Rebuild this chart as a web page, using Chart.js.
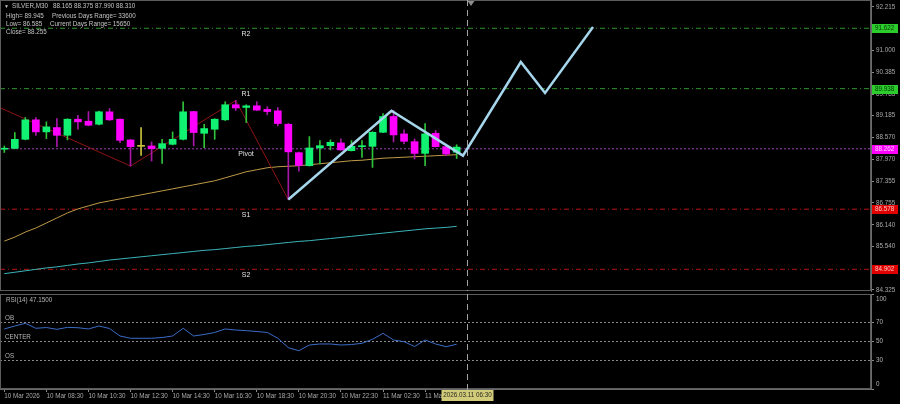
<!DOCTYPE html>
<html>
<head>
<meta charset="utf-8">
<script src="https://cdn.jsdelivr.net/npm/chart.js@4.4.1/dist/chart.umd.min.js"></script>
<style>
  html, body { margin: 0; padding: 0; background: #000; }
  #wrap { position: relative; width: 900px; height: 404px; overflow: hidden; background: #000; }
  #priceChart { position: absolute; left: 0; top: 0; }
  #rsiChart { position: absolute; left: 0; top: 294px; }
</style>
</head>
<body>
<div id="wrap">
  <canvas id="priceChart" width="900" height="294"></canvas>
  <canvas id="rsiChart" width="900" height="110"></canvas>
</div>
<script>
// SILVER M30 candles
const candleOpen = [88.25, 88.274, 88.526, 89.069, 88.733, 88.854, 88.638, 89.086, 89.03, 88.946,
  89.293, 89.086, 88.509, 88.33, 88.341, 88.274, 88.386, 88.526, 89.30, 88.694,
  88.806, 89.069, 89.49, 89.414, 89.46, 89.36, 89.32, 88.946, 88.153, 87.79,
  88.285, 88.349, 88.425, 88.209, 88.321, 88.330, 88.722, 89.162, 88.677, 88.461,
  88.134, 88.694, 88.321, 88.165];
const candleHigh = [88.34, 88.714, 89.134, 89.134, 89.013, 89.106, 89.10, 89.198, 89.30, 89.31,
  89.386, 89.10, 88.52, 88.85, 88.453, 88.526, 88.733, 89.574, 89.31, 88.946,
  89.10, 89.574, 89.61, 89.49, 89.574, 89.44, 89.414, 88.97, 88.17, 88.602,
  88.49, 88.509, 88.537, 88.49, 88.49, 88.74, 89.246, 89.33, 88.789, 88.537,
  88.965, 88.77, 88.33, 88.375];
const candleLow = [88.16, 88.26, 88.51, 88.638, 88.546, 88.321, 88.509, 88.806, 88.90, 88.93,
  89.05, 88.434, 87.781, 88.08, 87.921, 87.854, 88.37, 88.51, 88.341, 88.293,
  88.526, 89.05, 89.33, 88.994, 89.33, 89.21, 88.90, 86.845, 87.641, 87.78,
  87.837, 88.229, 88.22, 88.20, 88.022, 87.742, 88.71, 88.453, 88.397, 87.977,
  87.79, 88.31, 88.07, 87.990];
const candleClose = [88.27, 88.526, 89.069, 88.733, 88.873, 88.638, 89.086, 89.013, 88.918, 89.293,
  89.069, 88.498, 88.321, 88.335, 88.265, 88.405, 88.526, 89.293, 88.714, 88.826,
  89.086, 89.49, 89.40, 89.46, 89.34, 89.30, 88.966, 88.176, 87.798, 88.285,
  88.349, 88.442, 88.229, 88.330, 88.349, 88.722, 89.162, 88.649, 88.47, 88.134,
  88.677, 88.321, 88.117, 88.310];

const maFast = [85.688, 85.80, 85.94, 86.053, 86.193, 86.333, 86.473, 86.585, 86.669, 86.753,
  86.809, 86.865, 86.921, 86.977, 87.033, 87.089, 87.145, 87.201, 87.257, 87.313,
  87.369, 87.453, 87.537, 87.621, 87.677, 87.733, 87.761, 87.775, 87.789, 87.817,
  87.845, 87.873, 87.901, 87.929, 87.943, 87.971, 87.999, 88.013, 88.027, 88.041,
  88.055, 88.069, 88.083, 88.097];
const maSlow = [84.78, 84.82, 84.86, 84.90, 84.94, 84.97, 85.01, 85.05, 85.08, 85.12,
  85.16, 85.19, 85.22, 85.25, 85.28, 85.31, 85.34, 85.37, 85.40, 85.43,
  85.45, 85.48, 85.51, 85.54, 85.56, 85.59, 85.62, 85.65, 85.68, 85.70,
  85.73, 85.76, 85.79, 85.82, 85.85, 85.88, 85.91, 85.94, 85.97, 86.00,
  86.03, 86.05, 86.07, 86.10];
const rsiValues = [63.2, 66.3, 69.2, 63.9, 64.7, 62.8, 64.9, 64.5, 63.2, 66.3,
  63.7, 55.8, 53.4, 53.4, 53.4, 54.2, 55.8, 63.9, 55.8, 57.4,
  59.5, 63.2, 62.1, 61.4, 60.5, 59.5, 53.4, 43.5, 40.3, 46.3,
  47.4, 47.4, 46.3, 46.8, 48.1, 52.3, 58.6, 51.6, 49.8, 44.7,
  51.6, 47.4, 44.5, 47.15];

const zigzagBars = [-0.41, 12, 22, 27, 37];
const zigzagPrices = [89.408, 87.781, 89.61, 86.845, 89.33];
const projBars = [27, 36.8, 43.6, 49.1, 51.4, 55.96];
const projPrices = [86.848, 89.324, 88.07, 90.68, 89.817, 91.657];

const levelNames = ['R2', 'R1', 'Pivot', 'S1', 'S2'];
const levelValues = [91.622, 89.938, 88.262, 86.578, 84.902];
const priceTicks = [92.215, 91.600, 91.000, 90.385, 89.785, 89.185, 88.570, 87.970, 87.355, 86.755, 86.140, 85.540, 84.925, 84.325];
const rsiLevels = [70, 50, 30];
const rsiLevelNames = ['OB', 'CENTER', 'OS'];
const rsiTicks = [100, 70, 50, 30, 0];
const timeLabels = ['10 Mar 2026', '10 Mar 08:30', '10 Mar 10:30', '10 Mar 12:30', '10 Mar 14:30', '10 Mar 16:30',
  '10 Mar 18:30', '10 Mar 20:30', '10 Mar 22:30', '11 Mar 02:30', '11 Mar 04:30'];
const timeTickBars = [0, 4, 8, 12, 16, 20, 24, 28, 32, 36, 40];
const cursorBar = 44;
const cursorLabel = '2026.03.11 06:30';

// view / style
const xMin = -0.409, xMax = 82.386;
const levelLine = ['#2f962f', '#2f962f', '#a03cb4', '#b81414', '#b81414'];
const levelDash = [[5, 3, 1, 3], [5, 3, 1, 3], [2, 2], [5, 3, 1, 3], [5, 3, 1, 3]];
const levelBox = ['#2ccc2c', '#2ccc2c', '#ff00ff', '#e00000', '#e00000'];
const levelBoxText = ['#063806', '#063806', '#ffd6ff', '#ffc4c4', '#ffc4c4'];
const FONT = '"Liberation Sans", Arial, sans-serif';

Chart.defaults.font.family = FONT;
Chart.defaults.font.size = 6.3;
Chart.defaults.color = '#a8a8a8';

const bars = candleOpen.map((o, i) => i);
function candleColor(i, bull, bear, doji) {
  let d = candleClose[i] - candleOpen[i];
  if (Math.abs(d) < 0.01) return doji;
  return d > 0 ? bull : bear;
}

function fixAxis(w, h) {
  return function(scale) {
    if (w) scale.width = w;
    if (h) scale.height = h;
    scale.paddingTop = 0;
    scale.paddingBottom = 0;
    scale.paddingLeft = 0;
    scale.paddingRight = 0;
  };
}

const levelSets = levelValues.map((v, k) => ({
  type: 'line',
  data: [{x: xMin, y: v}, {x: xMax, y: v}],
  borderColor: levelLine[k],
  borderWidth: 1,
  borderDash: levelDash[k],
  pointRadius: 0,
  order: 10
}));

const mainDecor = {
  id: 'mainDecor',
  afterDraw(chart) {
    const {ctx, chartArea: a} = chart;
    const x = chart.scales.x, y = chart.scales.y;
    ctx.save();
    ctx.strokeStyle = '#5c5c5c';
    ctx.lineWidth = 1;
    ctx.strokeRect(a.left + 0.5, a.top + 0.5, a.right - a.left - 1, a.bottom - a.top - 1);

    let cx = Math.round(x.getPixelForValue(cursorBar)) + 0.5;
    ctx.strokeStyle = '#a4a4a4';
    ctx.setLineDash([6, 4]);
    ctx.beginPath(); ctx.moveTo(cx, a.top); ctx.lineTo(cx, a.bottom); ctx.stroke();
    ctx.setLineDash([]);
    ctx.fillStyle = '#8c8c8c';
    ctx.beginPath(); ctx.moveTo(cx, 1); ctx.lineTo(cx + 7, 1); ctx.lineTo(cx + 3.5, 6); ctx.fill();

    ctx.fillStyle = '#c4c4c4';
    ctx.textBaseline = 'middle';
    ctx.textAlign = 'left';
    ctx.font = '5px ' + FONT;
    ctx.fillText('▼', 4, 6.5);
    ctx.font = '6.3px ' + FONT;
    ctx.fillText('SILVER,M30', 12, 6.5);
    ctx.fillText('88.165 88.375 87.990 88.310', 53, 6.5);
    ctx.fillText('High= 89.945', 6, 16);
    ctx.fillText('Previous Days Range= 33600', 52, 16);
    ctx.fillText('Low= 86.585', 6, 24);
    ctx.fillText('Current Days Range= 15650', 50, 24);
    ctx.fillText('Close= 88.255', 6, 32);

    ctx.font = '7px ' + FONT;
    ctx.fillStyle = '#e2e2e2';
    ctx.textAlign = 'center';
    ctx.textBaseline = 'top';
    levelValues.forEach((v, k) => {
      ctx.fillText(levelNames[k], 246, y.getPixelForValue(v) + 2);
    });

    ctx.font = '6.3px ' + FONT;
    ctx.textAlign = 'left';
    ctx.textBaseline = 'middle';
    levelValues.forEach((v, k) => {
      let py = Math.round(y.getPixelForValue(v));
      ctx.fillStyle = levelBox[k];
      ctx.fillRect(a.right + 1, py - 4, 26, 9);
      ctx.fillStyle = levelBoxText[k];
      ctx.fillText(v.toFixed(3), a.right + 4, py + 0.5);
    });
    ctx.restore();
  }
};

new Chart(document.getElementById('priceChart'), {
  type: 'bar',
  data: {
    datasets: [
      ...levelSets,
      {
        type: 'line',
        data: bars.map(i => ({x: i, y: maSlow[i]})),
        borderColor: '#3cb4b8', borderWidth: 1, pointRadius: 0, order: 9
      },
      {
        type: 'line',
        data: bars.map(i => ({x: i, y: maFast[i]})),
        borderColor: '#c09a48', borderWidth: 1, pointRadius: 0, order: 8
      },
      {
        type: 'line',
        data: zigzagBars.map((b, k) => ({x: b, y: zigzagPrices[k]})),
        borderColor: '#8e1414', borderWidth: 1, pointRadius: 0, order: 7
      },
      {
        data: bars.map(i => ({x: i, y: [candleLow[i], candleHigh[i]]})),
        backgroundColor: bars.map(i => candleColor(i, '#2fc23a', '#a818a8', '#c8c23c')),
        barThickness: 1, grouped: false, order: 5
      },
      {
        data: bars.map(i => ({x: i, y: [candleOpen[i], candleClose[i]]})),
        backgroundColor: bars.map(i => candleColor(i, '#12f272', '#ff00ff', '#c8c23c')),
        barThickness: 7, minBarLength: 1, grouped: false, order: 4
      },
      {
        type: 'line',
        data: projBars.map((b, k) => ({x: b, y: projPrices[k]})),
        borderColor: '#a6d6ec', borderWidth: 2.5, pointRadius: 0, order: 1
      }
    ]
  },
  options: {
    responsive: false,
    animation: false,
    devicePixelRatio: 1,
    layout: {padding: {left: 0, right: 0, top: 0, bottom: 3}},
    plugins: {legend: {display: false}, tooltip: {enabled: false}},
    scales: {
      x: {type: 'linear', min: xMin, max: xMax, offset: false, display: false},
      y: {
        position: 'right', min: 84.297, max: 92.410,
        afterBuildTicks(scale) { scale.ticks = priceTicks.map(v => ({value: v})); },
        afterFit: fixAxis(29, 0),
        ticks: {callback: v => v.toFixed(3), padding: 2, color: '#a8a8a8'},
        grid: {drawOnChartArea: false, drawTicks: true, tickLength: 3, color: '#8a8a8a'},
        border: {display: true, color: '#6a6a6a'}
      }
    }
  },
  plugins: [mainDecor]
});

const rsiDecor = {
  id: 'rsiDecor',
  afterDraw(chart) {
    const {ctx, chartArea: a} = chart;
    const x = chart.scales.x, y = chart.scales.y;
    ctx.save();
    ctx.strokeStyle = '#5c5c5c';
    ctx.lineWidth = 1;
    ctx.strokeRect(a.left + 0.5, a.top + 0.5, a.right - a.left - 1, a.bottom - a.top - 1);

    let cx = Math.round(x.getPixelForValue(cursorBar)) + 0.5;
    ctx.strokeStyle = '#a4a4a4';
    ctx.setLineDash([6, 4]);
    ctx.beginPath(); ctx.moveTo(cx, a.top); ctx.lineTo(cx, a.bottom + 3); ctx.stroke();
    ctx.setLineDash([]);

    ctx.font = '6.3px ' + FONT;
    ctx.fillStyle = '#b4b4b4';
    ctx.textAlign = 'left';
    ctx.textBaseline = 'middle';
    ctx.fillText('RSI(14) ' + rsiValues[rsiValues.length - 1].toFixed(4), 6, 6);
    rsiLevels.forEach((v, k) => {
      ctx.fillText(rsiLevelNames[k], 5, y.getPixelForValue(v) - 4);
    });
    rsiTicks.forEach(v => {
      let py = y.getPixelForValue(v);
      if (v === 100) py += 5;
      if (v === 0) py -= 5;
      ctx.fillText(String(v), a.right + 5, py);
    });

    ctx.fillStyle = '#d2cb7a';
    ctx.fillRect(cx - 26, a.bottom + 1, 52, 11);
    ctx.fillStyle = '#2a2a20';
    ctx.textAlign = 'center';
    ctx.fillText(cursorLabel, cx, a.bottom + 6.5);
    ctx.restore();
  }
};

new Chart(document.getElementById('rsiChart'), {
  type: 'line',
  data: {
    datasets: [
      ...rsiLevels.map(v => ({
        data: [{x: xMin, y: v}, {x: xMax, y: v}],
        borderColor: '#8a8a8a', borderWidth: 1, borderDash: [2, 2], pointRadius: 0, order: 5
      })),
      {
        data: bars.map(i => ({x: i, y: rsiValues[i]})),
        borderColor: '#3b6cc6', borderWidth: 1, pointRadius: 0, order: 1
      }
    ]
  },
  options: {
    responsive: false,
    animation: false,
    devicePixelRatio: 1,
    layout: {padding: 0},
    plugins: {legend: {display: false}, tooltip: {enabled: false}},
    scales: {
      x: {
        type: 'linear', min: xMin, max: xMax, offset: false,
        afterBuildTicks(scale) { scale.ticks = timeTickBars.map(v => ({value: v})); },
        afterFit: fixAxis(0, 15),
        ticks: {
          callback: v => timeLabels[timeTickBars.indexOf(v)],
          autoSkip: false, maxRotation: 0, align: 'start', padding: 0, color: '#a8a8a8'
        },
        grid: {drawOnChartArea: false, drawTicks: true, tickLength: 3, color: '#8a8a8a'},
        border: {display: true, color: '#6a6a6a'}
      },
      y: {
        position: 'right', min: 0, max: 100,
        afterBuildTicks(scale) { scale.ticks = rsiTicks.map(v => ({value: v})); },
        afterFit: fixAxis(29, 0),
        ticks: {display: false},
        grid: {drawOnChartArea: false, drawTicks: true, tickLength: 3, color: '#8a8a8a'},
        border: {display: true, color: '#6a6a6a'}
      }
    }
  },
  plugins: [rsiDecor]
});
</script>
</body>
</html>
